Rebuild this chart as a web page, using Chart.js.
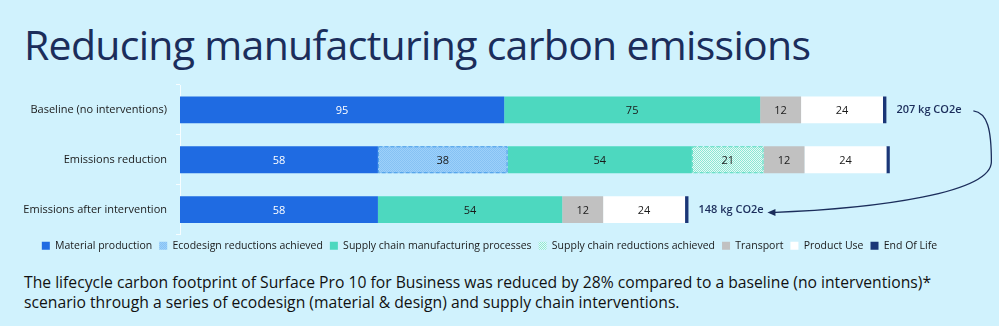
<!DOCTYPE html>
<html>
<head>
<meta charset="utf-8">
<script src="https://cdn.jsdelivr.net/npm/chart.js@4"></script>
<style>
  body { margin: 0; background: #d0f2fd; }
  #wrap { position: relative; width: 999px; height: 326px; overflow: hidden; background: #d0f2fd; }
  #title { position: absolute; left: 24px; top: 16px; font: 41px "Open Sans", sans-serif; color: #1b2d5b; white-space: nowrap; letter-spacing: -0.7px; }
  #note { position: absolute; left: 24px; top: 272px; font: 15.7px/20px "Open Sans", sans-serif; color: #111; white-space: nowrap; }
  #box { position: absolute; left: 0; top: 0; width: 999px; height: 262px; }
</style>
</head>
<body>
<div id="wrap">
  <div id="title">Reducing manufacturing carbon emissions</div>
  <div id="box"><canvas id="chart"></canvas></div>
  <div id="note">The lifecycle carbon footprint of Surface Pro 10 for Business was reduced by 28% compared to a baseline (no interventions)*<br>scenario through a series of ecodesign (material &amp; design) and supply chain interventions.</div>
</div>
<script>
const scenarios = ['Baseline (no interventions)', 'Emissions reduction', 'Emissions after intervention'];
const materialProduction = [95, 58, 58];
const ecodesignReductions = [null, 38, null];
const supplyChainProcesses = [75, 54, 54];
const supplyChainReductions = [null, 21, null];
const transport = [12, 12, 12];
const productUse = [24, 24, 24];
const endOfLife = [1, 1, 1];
const totalLabels = ['207 kg CO2e', null, '148 kg CO2e'];

function checker(base, dot) {
    const c = document.createElement('canvas');
    c.width = 2; c.height = 2;
    const g = c.getContext('2d');
    g.fillStyle = base; g.fillRect(0, 0, 2, 2);
    g.fillStyle = dot; g.fillRect(0, 0, 1, 1); g.fillRect(1, 1, 1, 1);
    return g.createPattern(c, 'repeat');
}
const ecoPattern = checker('#9dd0fa', '#86c2f4');
const scrPattern = checker('#e6fbf6', '#8de6d4');

const datasets = [
    { label: 'Material production', data: materialProduction, backgroundColor: '#1f6be2', textColor: '#fff' },
    { label: 'Ecodesign reductions achieved', data: ecodesignReductions, backgroundColor: ecoPattern, dash: '#4a9ee8' },
    { label: 'Supply chain manufacturing processes', data: supplyChainProcesses, backgroundColor: '#4dd8bf' },
    { label: 'Supply chain reductions achieved', data: supplyChainReductions, backgroundColor: scrPattern, dash: '#5cdcc4' },
    { label: 'Transport', data: transport, backgroundColor: '#c1c1c1' },
    { label: 'Product Use', data: productUse, backgroundColor: '#ffffff' },
    { label: 'End Of Life', data: endOfLife, backgroundColor: '#1b3677', noLabel: true },
];

const barText = {
    id: 'barText',
    afterLayout(chart) {
        // nudge the legend a bit left, like the source slide
        const lg = chart.legend;
        lg.top -= 1; lg.bottom -= 1;
        lg.left -= 10; lg.right -= 10;
    },
    afterDatasetsDraw(chart) {
        const ctx = chart.ctx;
        ctx.save();
        chart.data.datasets.forEach((ds, i) => {
            const meta = chart.getDatasetMeta(i);
            meta.data.forEach((bar, j) => {
                const v = ds.data[j];
                if (v == null) return;
                const left = Math.min(bar.x, bar.base), w = Math.abs(bar.x - bar.base);
                const top = bar.y - bar.height / 2;
                if (ds.dash) {
                    ctx.strokeStyle = ds.dash;
                    ctx.lineWidth = 1;
                    ctx.setLineDash([4, 2]);
                    ctx.strokeRect(left + 0.5, top + 0.5, w - 1, bar.height - 1);
                    ctx.setLineDash([]);
                }
                if (ds.noLabel) return;
                ctx.fillStyle = ds.textColor || '#1a1a1a';
                ctx.font = '11px "Open Sans", sans-serif';
                ctx.textAlign = 'center';
                ctx.textBaseline = 'middle';
                ctx.fillText(v, left + w / 2, bar.y + 1);
            });
        });
        // totals and arrow
        const x = chart.scales.x, y = chart.scales.y;
        const sums = scenarios.map((s, j) => chart.data.datasets.reduce((a, ds) => a + (ds.data[j] || 0), 0));
        ctx.font = '600 11px "Open Sans", sans-serif';
        ctx.fillStyle = '#1b2d5b';
        ctx.textAlign = 'left';
        ctx.textBaseline = 'middle';
        totalLabels.forEach((t, j) => {
            if (t) ctx.fillText(t, x.getPixelForValue(sums[j]) + 10, y.getPixelForValue(j));
        });
        const sx = x.getPixelForValue(sums[0]) + 87, sy = y.getPixelForValue(0) + 1;
        const ex = x.getPixelForValue(sums[2]) + 82, ey = y.getPixelForValue(2) + 3;
        const mx = sx + 18, my = (sy + ey) / 2;
        ctx.strokeStyle = '#1b2d5b';
        ctx.lineWidth = 1.3;
        ctx.beginPath();
        ctx.moveTo(sx, sy);
        ctx.bezierCurveTo(sx + 14, sy + 2, mx, sy + 18, mx, my);
        ctx.bezierCurveTo(mx, ey - 20, ex + 110, ey - 4, ex, ey);
        ctx.stroke();
        ctx.fillStyle = '#1b2d5b';
        ctx.beginPath();
        ctx.moveTo(ex - 3, ey);
        ctx.lineTo(ex + 5, ey - 3.5);
        ctx.lineTo(ex + 5, ey + 3.5);
        ctx.closePath();
        ctx.fill();
        ctx.restore();
    }
};

new Chart(document.getElementById('chart'), {
    type: 'bar',
    data: { labels: scenarios, datasets: datasets.map(d => Object.assign({ borderWidth: 0, barPercentage: 0.54, categoryPercentage: 1 }, d)) },
    options: {
        indexAxis: 'y',
        responsive: true,
        maintainAspectRatio: false,
        animation: false,
        layout: { padding: { top: 85, right: 0, bottom: 0, left: 0 } },
        scales: {
            x: { stacked: true, min: 0, max: 240, display: false },
            y: {
                stacked: true,
                afterFit: s => { s.width = 180; },
                border: { color: 'rgba(255,255,255,0.8)' },
                grid: { offset: true, drawOnChartArea: false, tickLength: 4, color: 'rgba(255,255,255,0.8)' },
                ticks: { color: '#1a1a1a', padding: 9, font: { family: 'Open Sans', size: 11 } }
            }
        },
        plugins: {
            legend: {
                position: 'bottom',
                labels: { boxWidth: 8, boxHeight: 8, padding: 7, color: '#1a1a1a', font: { family: 'Open Sans', size: 10.5 } }
            },
            tooltip: { enabled: false }
        }
    },
    plugins: [barText]
});
</script>
</body>
</html>
